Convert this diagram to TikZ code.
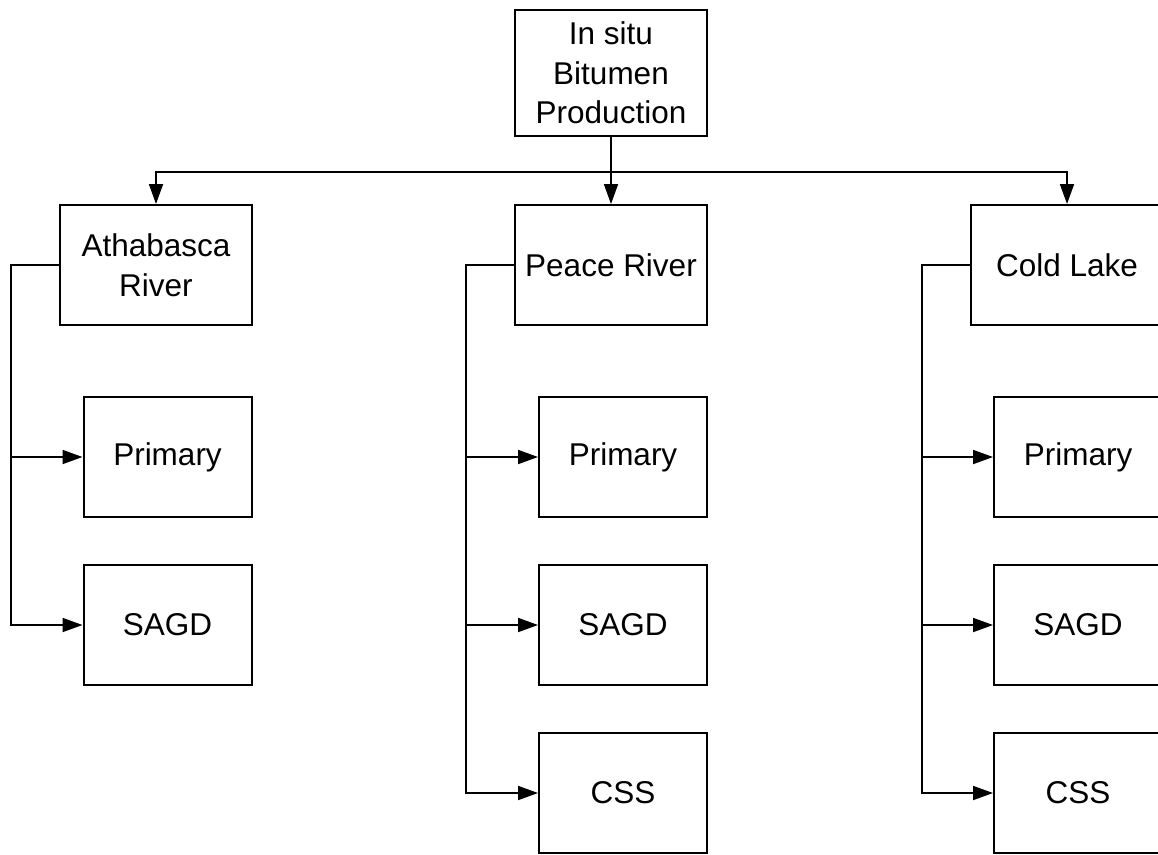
\documentclass[tikz,border=0pt]{standalone}
\usepackage{fontspec}
\setmainfont{Liberation Sans}
\usetikzlibrary{arrows.meta}
\begin{document}
\begin{tikzpicture}[x=1pt,y=-1pt,
  box/.style={draw, line width=2pt, minimum width=192pt, minimum height=120pt,
    align=center, inner sep=0pt, font=\fontsize{31.5}{39.5}\selectfont},
  subbox/.style={box, minimum width=168pt},
  conn/.style={line width=1.8pt},
  arr/.style={conn, -{Triangle[length=20pt,width=14pt]}}]
\useasboundingbox (0,0) rectangle (1158,854);
\clip (0,0) rectangle (1158,854);
\node[box, minimum height=126pt] (top) at (611,73) {In situ\\Bitumen\\Production};
\node[box] (ath) at (156,265) {Athabasca\\River};
\node[box] (pea) at (611,265) {Peace River};
\node[box] (col) at (1067,265) {Cold Lake};
\node[subbox] (athp) at (167.5,457) {Primary};
\node[subbox] (aths) at (167.5,625) {SAGD};
\node[subbox] (peap) at (623,457) {Primary};
\node[subbox] (peas) at (623,625) {SAGD};
\node[subbox] (peac) at (623,793) {CSS};
\node[subbox] (colp) at (1078,457) {Primary};
\node[subbox] (cols) at (1078,625) {SAGD};
\node[subbox] (colc) at (1078,793) {CSS};
\coordinate (bus) at (611,172);
\coordinate (athk) at (11,265);
\coordinate (peak) at (466,265);
\coordinate (colk) at (922,265);
\draw[arr] (top.south) -- (pea.north);
\draw[arr] (bus) -| (ath.north);
\draw[arr] (bus) -| (col.north);
\draw[arr] (ath.west) -- (athk) |- (athp.west);
\draw[arr] (ath.west) -- (athk) |- (aths.west);
\draw[arr] (pea.west) -- (peak) |- (peap.west);
\draw[arr] (pea.west) -- (peak) |- (peas.west);
\draw[arr] (pea.west) -- (peak) |- (peac.west);
\draw[arr] (col.west) -- (colk) |- (colp.west);
\draw[arr] (col.west) -- (colk) |- (cols.west);
\draw[arr] (col.west) -- (colk) |- (colc.west);
\end{tikzpicture}
\end{document}
